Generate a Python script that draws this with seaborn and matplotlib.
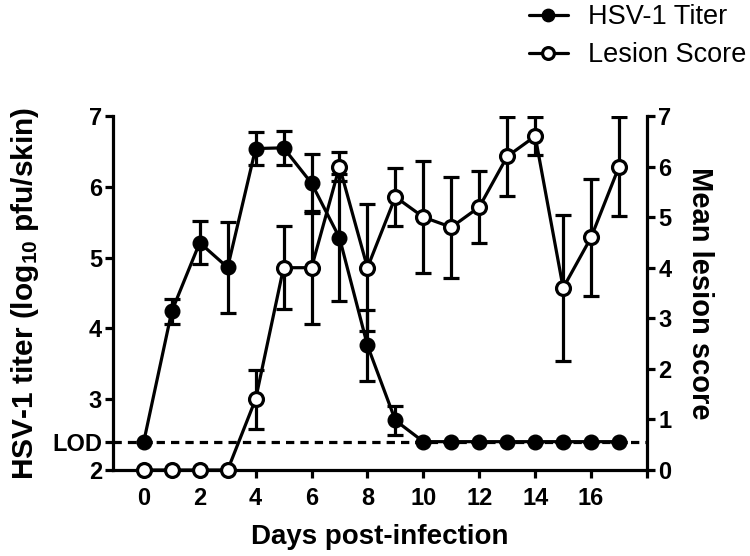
import numpy as np
import pandas as pd
import matplotlib
matplotlib.use("Agg")
import matplotlib.pyplot as plt
import seaborn as sns

# values
days = list(range(18))
titer = [2.4, 4.24, 5.21, 4.86, 6.54, 6.55, 6.05, 5.28, 3.76, 2.70,
         2.4, 2.4, 2.4, 2.4, 2.4, 2.4, 2.4, 2.4]
titer_err = [0, 0.18, 0.30, 0.64, 0.23, 0.24, 0.42, 0.90, 0.50, 0.20,
             0, 0, 0, 0, 0, 0, 0, 0]
lesion = [0, 0, 0, 0, 1.4, 4.0, 4.0, 6.0, 4.0, 5.4,
          5.0, 4.8, 5.2, 6.2, 6.6, 3.6, 4.6, 6.0]
lesion_err = [0, 0, 0, 0, 0.58, 0.82, 1.12, 0.28, 1.25, 0.58,
              1.10, 1.00, 0.72, 0.78, 0.38, 1.45, 1.15, 0.97]
lod = 2.4
left_ticks = [2, lod, 3, 4, 5, 6, 7]
left_labels = ["2", "LOD", "3", "4", "5", "6", "7"]
x_ticks = [0, 2, 4, 6, 8, 10, 12, 14, 16, 18]
x_labels = ["0", "2", "4", "6", "8", "10", "12", "14", "16", ""]

df = pd.DataFrame({"day": days, "titer": titer, "titer_err": titer_err,
                   "lesion": lesion, "lesion_err": lesion_err})

sns.set_style("ticks", {"axes.edgecolor": "black", "text.color": "black",
                        "axes.labelcolor": "black", "xtick.color": "black",
                        "ytick.color": "black"})
plt.rcParams['font.family'] = ['Liberation Sans', 'DejaVu Sans']
plt.rcParams['mathtext.fontset'] = 'custom'
plt.rcParams['mathtext.rm'] = 'Liberation Sans:bold'
plt.rcParams['mathtext.default'] = 'rm'

LW = 2.3
fig = plt.figure(figsize=(7.5, 5.56), dpi=100)
ax = fig.add_axes([0.1507, 0.1547, 0.712, 0.6367])
ax2 = ax.twinx()

# titer on left axis
ax.axhline(lod, color="black", lw=LW, ls=(0, (2.6, 1.9)), zorder=1)
ax.errorbar(df["day"], df["titer"], yerr=df["titer_err"], fmt="none",
            ecolor="black", elinewidth=LW, capsize=6, capthick=LW, zorder=2)
sns.lineplot(data=df, x="day", y="titer", ax=ax, color="black", lw=LW,
             marker="o", markersize=10.5, markerfacecolor="black",
             markeredgecolor="black", markeredgewidth=1, zorder=3,
             label="HSV-1 Titer", legend=False)

# lesion score on right axis
ax2.errorbar(df["day"], df["lesion"], yerr=df["lesion_err"], fmt="none",
             ecolor="black", elinewidth=LW, capsize=6, capthick=LW, zorder=2)
sns.lineplot(data=df, x="day", y="lesion", ax=ax2, color="black", lw=LW,
             marker="o", markersize=10, markerfacecolor="white",
             markeredgecolor="black", markeredgewidth=2.3, zorder=3,
             label="Lesion Score", legend=False, clip_on=False)

ax.set_xlim(-1.1, 18)
ax.set_ylim(2, 7)
ax2.set_ylim(0, 7)
ax.set_xticks(x_ticks)
ax.set_xticklabels(x_labels)
ax.set_yticks(left_ticks)
ax.set_yticklabels(left_labels)
ax2.set_yticks(range(8))

for a in (ax, ax2):
    a.spines["top"].set_visible(False)
    for s in ("left", "bottom", "right"):
        a.spines[s].set_linewidth(LW)
    a.tick_params(width=LW, length=6, labelsize=17, pad=2, colors="black")
    for t in a.get_xticklabels() + a.get_yticklabels():
        t.set_fontweight("bold")
ax.tick_params(axis="x", pad=6)
ax.spines["right"].set_visible(False)
ax2.spines["left"].set_visible(False)
ax2.spines["bottom"].set_visible(False)

ax.set_xlabel("Days post-infection", fontsize=20, fontweight="bold", labelpad=10)
ax.set_ylabel(r"HSV-1 titer (log$_{10}$ pfu/skin)", fontsize=21.5,
              fontweight="bold", labelpad=8)
ax2.set_ylabel("Mean lesion score", fontsize=21, fontweight="bold",
               rotation=270, labelpad=31)

h1, l1 = ax.get_legend_handles_labels()
h2, l2 = ax2.get_legend_handles_labels()
fig.legend(h1 + h2, l1 + l2, loc="upper right", bbox_to_anchor=(1.017, 1.022),
           frameon=False, fontsize=19.5, markerscale=0.85, handlelength=1.45,
           handletextpad=0.75, labelspacing=0.46, borderaxespad=0.2)

plt.savefig("out.png", dpi=100)
